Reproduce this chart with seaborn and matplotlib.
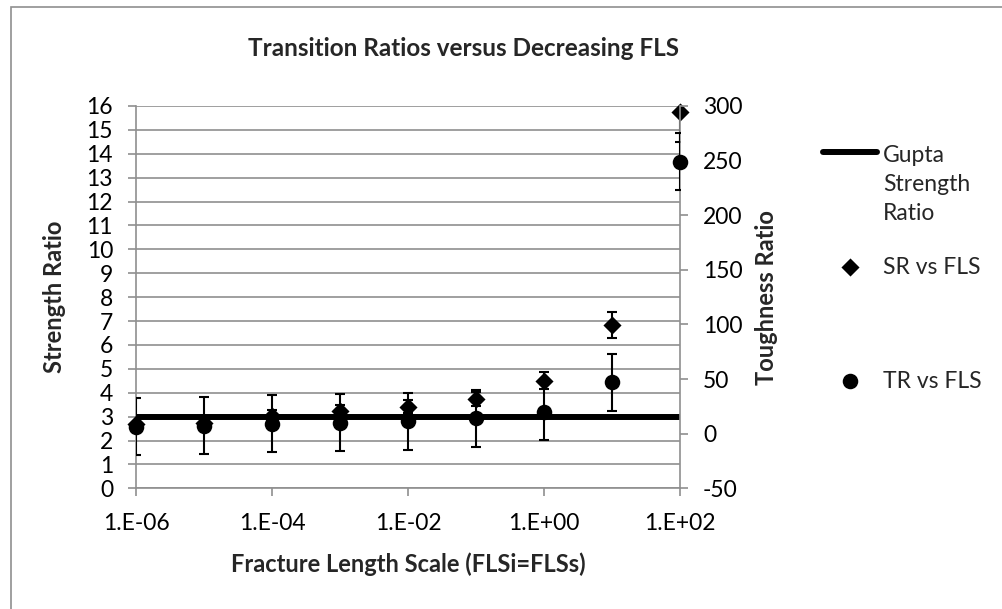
import numpy as np
import pandas as pd
import matplotlib
matplotlib.use("Agg")
import matplotlib.pyplot as plt
import seaborn as sns
from matplotlib.patches import Rectangle
from matplotlib.ticker import FixedLocator, NullLocator

# ---- data ----
fls = [1e-6, 1e-5, 1e-4, 1e-3, 1e-2, 1e-1, 1e0, 1e1, 1e2]
sr = [2.7, 2.75, 3.04, 3.22, 3.42, 3.74, 4.5, 6.83, 15.75]
sr_err = [0.22, 0.22, 0.24, 0.26, 0.27, 0.30, 0.36, 0.55, 1.26]
tr = [6.5, 7.4, 9.0, 9.9, 11.3, 14.1, 20.2, 46.9, 249.0]
tr_err = [26.2, 26.2, 26.2, 26.2, 26.2, 26.2, 26.2, 26.2, 26.2]
gupta_x = [1e-6, 1e2]
gupta_y = [3, 3]
x_ticks = [1e-6, 1e-4, 1e-2, 1e0, 1e2]
x_ticklabels = ["1.E-06", "1.E-04", "1.E-02", "1.E+00", "1.E+02"]

sns.set_theme(style="white")
FONT = ["Lato", "DejaVu Sans"]
plt.rcParams["font.family"] = FONT
plt.rcParams["axes.unicode_minus"] = False

GRAY = "#8f8f8f"
FS = 16.5
LFS = 17

fig = plt.figure(figsize=(10.03, 6.09), dpi=100)
fig.patch.set_facecolor("white")
fig.patches.append(Rectangle((11 / 1003, -0.5), 2.0, 0.5 + 1 - 7 / 609,
                             transform=fig.transFigure, fill=False,
                             edgecolor=GRAY, linewidth=1.2))

ax = fig.add_axes([136 / 1003, 1 - 488.3 / 609, 544 / 1003, 382.3 / 609])
ax2 = ax.twinx()

df_sr = pd.DataFrame({"FLS": fls, "SR": sr})
df_tr = pd.DataFrame({"FLS": fls, "TR": tr})
df_g = pd.DataFrame({"FLS": gupta_x, "G": gupta_y})

ax.set_xscale("log")
sns.lineplot(data=df_g, x="FLS", y="G", ax=ax, color="black", linewidth=4.3,
             label="Gupta\nStrength\nRatio", legend=False, zorder=2)
ax.errorbar(fls, sr, yerr=sr_err, fmt="none", ecolor="black", elinewidth=1.5,
            capsize=3.8, capthick=1.5, zorder=3)
sns.scatterplot(data=df_sr, x="FLS", y="SR", ax=ax, marker="D", color="black",
                s=85, edgecolor="black", linewidth=0, label="SR vs FLS",
                legend=False, zorder=4, clip_on=False)

ax2.errorbar(fls, tr, yerr=tr_err, fmt="none", ecolor="black", elinewidth=1.5,
             capsize=3.8, capthick=1.5, zorder=3)
sns.scatterplot(data=df_tr, x="FLS", y="TR", ax=ax2, marker="o", color="black",
                s=125, edgecolor="black", linewidth=0, label="TR vs FLS",
                legend=False, zorder=4, clip_on=False)

ax.set_xlim(1e-6, 1e2)
ax.set_ylim(0, 16)
ax2.set_ylim(-50, 300)

ax.xaxis.set_major_locator(FixedLocator(x_ticks))
ax.xaxis.set_minor_locator(NullLocator())
ax.set_xticklabels(x_ticklabels)
ax.set_yticks(range(0, 17))
ax2.set_yticks(range(-50, 301, 50))

ax.grid(axis="y", color=GRAY, linewidth=1.2)
ax.grid(axis="x", visible=False)
ax2.grid(False)

for a in (ax, ax2):
    for s in a.spines.values():
        s.set_visible(False)
ax.spines["left"].set_visible(True)
ax.spines["bottom"].set_visible(True)
ax2.spines["right"].set_visible(True)
for s in (ax.spines["left"], ax.spines["bottom"], ax2.spines["right"]):
    s.set_color(GRAY)
    s.set_linewidth(1.2)

ax.tick_params(axis="both", which="major", length=5.5, width=1.2, color=GRAY,
               labelsize=FS, labelcolor="black", direction="out",
               left=True, bottom=True)
ax.tick_params(axis="y", pad=11)
ax.tick_params(axis="x", pad=12)
ax2.tick_params(axis="y", length=5.5, width=1.2, color=GRAY, labelsize=FS,
                labelcolor="black", direction="out", right=True, pad=11)

ax.set_xlabel("Fracture Length Scale (FLSi=FLSs)", fontsize=LFS, fontweight="bold")
ax.xaxis.set_label_coords(0.5, -0.168)
ax.set_ylabel("Strength Ratio", fontsize=LFS, fontweight="bold")
ax.yaxis.set_label_coords(-0.128, 0.5)
ax2.set_ylabel("Toughness Ratio", fontsize=LFS, fontweight="bold")
ax2.yaxis.set_label_coords(1.137, 0.5)

fig.text(464 / 1003, 1 - 56 / 609, "Transition Ratios versus Decreasing FLS",
         ha="center", va="baseline", fontsize=17.5, fontweight="bold")

# legends
h1, l1 = ax.get_legend_handles_labels()
h2, l2 = ax2.get_legend_handles_labels()
handles = dict(zip(l1 + l2, h1 + h2))
common = dict(frameon=False, fontsize=FS, handlelength=2.36, handletextpad=0.25,
              borderpad=0, borderaxespad=0, loc="center left")
lx = 823 / 1003
leg1 = fig.legend([handles["Gupta\nStrength\nRatio"]], ["Gupta\nStrength\nRatio"],
                  bbox_to_anchor=(lx, 1 - 184.5 / 609), **common)
for t in leg1.get_texts():
    t.set_linespacing(1.45)
lh = leg1.legend_handles[0]
shift_pt = 32.5 * 72 / 100
lh.set_ydata(np.asarray(lh.get_ydata()) + shift_pt)
fig.legend([handles["SR vs FLS"]], ["SR vs FLS"],
           bbox_to_anchor=(lx, 1 - 267 / 609), **common)
fig.legend([handles["TR vs FLS"]], ["TR vs FLS"],
           bbox_to_anchor=(lx, 1 - 381 / 609), **common)

fig.savefig("out.png", dpi=100)
